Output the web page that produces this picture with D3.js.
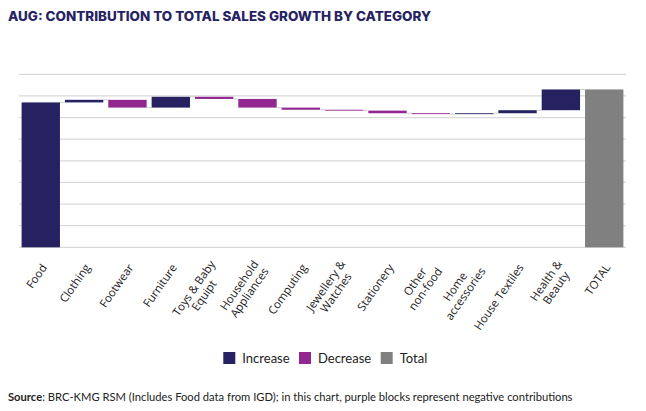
<!DOCTYPE html>
<html><head><meta charset="utf-8">
<script src="https://cdn.jsdelivr.net/npm/d3@7"></script>
<style>
body{margin:0;background:#fff;}
svg{display:block;}
</style></head>
<body>
<svg id="c" width="646" height="411"></svg>
<script>
const categories = ["Food","Clothing","Footwear","Furniture","Toys & Baby\nEquipt","Household\nAppliances","Computing","Jewellery &\nWatches","Stationery","Other\nnon-food","Home\naccessories","House Textiles","Health &\nBeauty","TOTAL"];
const values = [3.35, 0.06, -0.18, 0.25, -0.05, -0.20, -0.05, -0.02, -0.06, -0.02, 0.02, 0.07, 0.48, null];
const gridTicks = [0,0.5,1,1.5,2,2.5,3,3.5,4];
const legendItems = ["Increase","Decrease","Total"];
const colors = {Increase:"#262262", Decrease:"#92278f", Total:"#808080"};

const svg = d3.select("#c");
const x = d3.scaleBand().domain(categories).range([19,626]).paddingInner(0.115).paddingOuter(0.06);
const y = d3.scaleLinear().domain([0,4]).range([247.3,74.3]);

// gridlines
svg.append("g").selectAll("line").data(gridTicks).join("line")
  .attr("x1",19).attr("x2",626)
  .attr("y1",d=>y(d)).attr("y2",d=>y(d))
  .attr("stroke","#d9d9d9").attr("stroke-width",1.2);

// waterfall data
let run = 0;
const bars = categories.map((c,i)=>{
  if (values[i]===null) return {c, start:0, end:run, type:"Total"};
  const s = run; run += values[i];
  return {c, start:s, end:run, type: (i===0 || values[i]>=0) ? "Increase":"Decrease"};
});

// connectors
svg.append("g").selectAll("line").data(bars.slice(0,-1)).join("line")
  .attr("x1",(d)=>x(d.c)+x.bandwidth())
  .attr("x2",(d,i)=>x(bars[i+1].c))
  .attr("y1",d=>y(d.end)).attr("y2",d=>y(d.end))
  .attr("stroke","#d0d0d0").attr("stroke-width",1);

svg.append("g").selectAll("rect").data(bars).join("rect")
  .attr("x",d=>x(d.c)).attr("width",x.bandwidth())
  .attr("y",d=>y(Math.max(d.start,d.end)))
  .attr("height",d=>Math.max(0.9, Math.abs(y(d.start)-y(d.end))))
  .attr("fill",d=>colors[d.type]);

// x labels
const ang = -55, lh = 12.5;
const lg = svg.append("g").attr("font-family","'Open Sans', 'Noto Sans', sans-serif").attr("font-size",11.4).attr("fill","#222");
categories.forEach(c=>{
  const lines = c.split("\n");
  const cx = x(c)+x.bandwidth()/2 + 3, cy = 265;
  const g = lg.append("g").attr("transform",`translate(${cx},${cy}) rotate(${ang})`);
  const ts = lines.map((t,k)=>g.append("text").attr("text-anchor","middle").attr("dominant-baseline","central")
     .attr("y",(k-(lines.length-1)/2)*lh).text(t));
  const ws = ts.map(t=>t.node().getComputedTextLength());
  const mw = Math.max(...ws);
  ts.forEach(t=>t.attr("x",-mw/2));
});

// legend
const leg = svg.append("g").attr("font-family","Lato, sans-serif").attr("font-size",13).attr("fill","#222");
const lx = [223.3, 299, 380.7];
legendItems.forEach((k,i)=>{
  leg.append("rect").attr("x",lx[i]).attr("y",352).attr("width",12).attr("height",12).attr("fill",colors[k]);
  leg.append("text").attr("x",lx[i]+19).attr("y",362.5).text(k);
});

// title
svg.append("text").attr("x",8).attr("y",21).attr("font-family","Inter, sans-serif").attr("font-weight",800)
  .attr("font-size",13).attr("fill","#262262").attr("textLength",423).attr("lengthAdjust","spacingAndGlyphs")
  .text("AUG: CONTRIBUTION TO TOTAL SALES GROWTH BY CATEGORY");

// source
const src = svg.append("text").attr("x",8).attr("y",401).attr("font-family","Lato, sans-serif").attr("font-size",11.2).attr("fill","#222");
src.append("tspan").attr("font-weight",700).text("Source");
src.append("tspan").text(": BRC-KMG RSM (Includes Food data from IGD); in this chart, purple blocks represent negative contributions");
</script>
</body></html>
